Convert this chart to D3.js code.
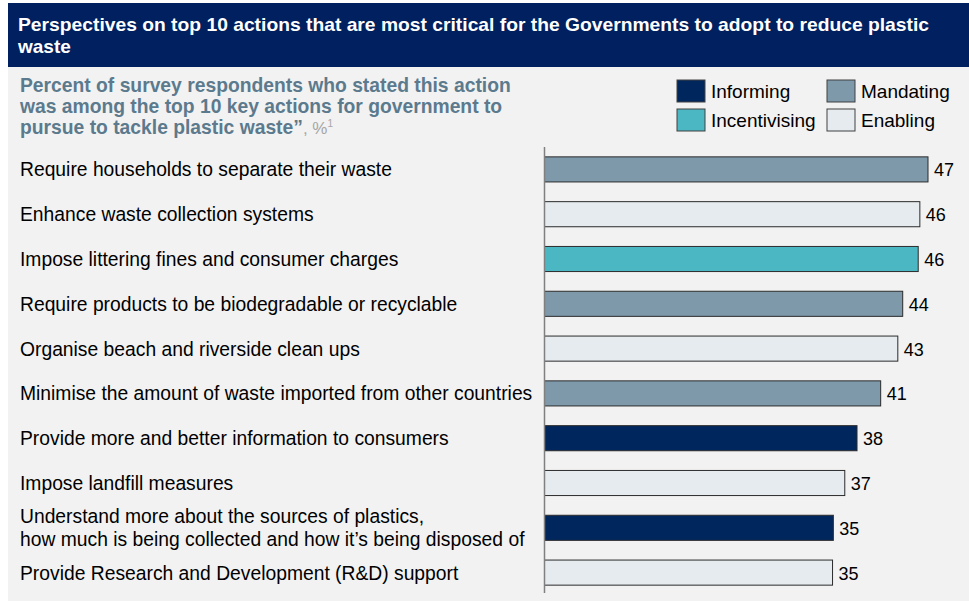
<!DOCTYPE html>
<html>
<head>
<meta charset="utf-8">
<script src="https://cdn.jsdelivr.net/npm/d3@7"></script>
<style>
  body { margin: 0; background: #fff; }
  svg { display: block; font-family: "Liberation Sans", Arial, sans-serif; }
</style>
</head>
<body>
<svg id="chart"></svg>
<script>
var actions = [
    ["Require households to separate their waste"],
    ["Enhance waste collection systems"],
    ["Impose littering fines and consumer charges"],
    ["Require products to be biodegradable or recyclable"],
    ["Organise beach and riverside clean ups"],
    ["Minimise the amount of waste imported from other countries"],
    ["Provide more and better information to consumers"],
    ["Impose landfill measures"],
    ["Understand more about the sources of plastics,", "how much is being collected and how it\u2019s being disposed of"],
    ["Provide Research and Development (R&D) support"]
];
var values = [47, 46, 45.8, 43.9, 43.3, 41.2, 38.3, 36.8, 35.4, 35.3];
var types = ["Mandating", "Enabling", "Incentivising", "Mandating", "Enabling",
             "Mandating", "Informing", "Enabling", "Informing", "Enabling"];
var legendOrder = ["Informing", "Mandating", "Incentivising", "Enabling"];
var colors = {
    "Informing": "#00265e",
    "Incentivising": "#4bb7c3",
    "Mandating": "#7d99aa",
    "Enabling": "#e6ebef"
};

var W = 969, H = 601;
var svg = d3.select("#chart").attr("width", W).attr("height", H);

// backgrounds
svg.append("rect").attr("x", 8).attr("y", 3).attr("width", W - 8).attr("height", H - 3).attr("fill", "#f2f2f2");
svg.append("rect").attr("x", 8).attr("y", 3).attr("width", W - 8).attr("height", 64).attr("fill", "#002060");

// title
var title = ["Perspectives on top 10 actions that are most critical for the Governments to adopt to reduce plastic", "waste"];
svg.append("g").selectAll("text").data(title).enter().append("text")
    .attr("x", 18).attr("y", function(d, i) { return 31 + i * 22; })
    .attr("fill", "#fff").attr("font-weight", "bold").attr("font-size", "19px")
    .each(function(d, i) {
        if (i === 0) d3.select(this).attr("textLength", 911).attr("lengthAdjust", "spacingAndGlyphs");
    })
    .text(function(d) { return d; });

// subtitle
var sub = svg.append("g").attr("fill", "#5c7a8d").attr("font-weight", "bold").attr("font-size", "19.3px");
sub.append("text").attr("x", 20).attr("y", 92).text("Percent of survey respondents who stated this action");
sub.append("text").attr("x", 20).attr("y", 113).text("was among the top 10 key actions for government to");
var s3 = sub.append("text").attr("x", 20).attr("y", 134);
s3.append("tspan").text("pursue to tackle plastic waste\u201d");
s3.append("tspan").attr("font-weight", "normal").attr("fill", "#a6a6a6").attr("font-size", "17px").text(", %");
s3.append("tspan").attr("font-weight", "normal").attr("fill", "#a6a6a6").attr("font-size", "10px").attr("dy", "-7").text("1");

// legend
var lg = svg.append("g").selectAll("g").data(legendOrder).enter().append("g")
    .attr("transform", function(d, i) {
        return "translate(" + (677 + (i % 2) * 150) + "," + (80 + Math.floor(i / 2) * 29) + ")";
    });
lg.append("rect").attr("width", 28).attr("height", 22)
    .attr("fill", function(d) { return colors[d]; })
    .attr("stroke", "#404040").attr("stroke-width", 1);
lg.append("text").attr("x", 34).attr("y", 18).attr("font-size", "19px").attr("fill", "#000")
    .text(function(d) { return d; });

// scales
var x = d3.scaleLinear().domain([0, 47]).range([544.5, 928]);
var y = d3.scaleBand().domain(d3.range(values.length)).range([147, 595]).paddingInner(0.44).paddingOuter(0.22);

var rows = svg.append("g").selectAll("g").data(values).enter().append("g");

rows.append("rect")
    .attr("x", x(0)).attr("y", function(d, i) { return y(i); })
    .attr("width", function(d) { return x(d) - x(0); })
    .attr("height", y.bandwidth())
    .attr("fill", function(d, i) { return colors[types[i]]; })
    .attr("stroke", "#2b2b2b").attr("stroke-width", 1);

rows.append("text")
    .attr("x", function(d) { return x(d) + 6; })
    .attr("y", function(d, i) { return y(i) + y.bandwidth() / 2 + 7; })
    .attr("font-size", "18px").attr("fill", "#000")
    .text(function(d) { return Math.round(d); });

rows.each(function(d, i) {
    var lines = actions[i];
    var cy = y(i) + y.bandwidth() / 2;
    d3.select(this).selectAll("text.cat").data(lines).enter().append("text")
        .attr("class", "cat")
        .attr("x", 20)
        .attr("y", function(t, j) { return cy + 7 + (j - (lines.length - 1) / 2) * 23; })
        .attr("font-size", "19.3px").attr("fill", "#000")
        .text(function(t) { return t; });
});

// axis line
svg.append("line").attr("x1", x(0)).attr("x2", x(0)).attr("y1", 147).attr("y2", 593)
    .attr("stroke", "#808080").attr("stroke-width", 1.5);
</script>
</body>
</html>
